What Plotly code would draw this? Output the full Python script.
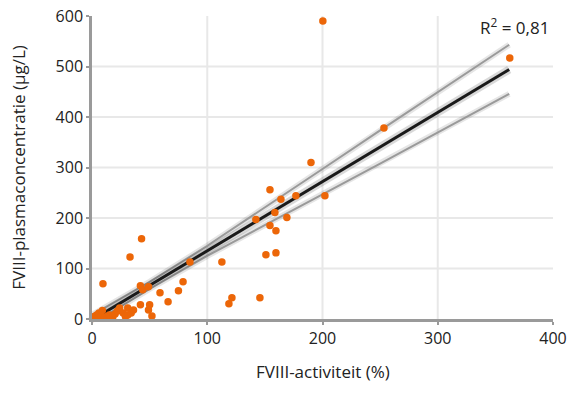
import plotly.graph_objects as go

# Scatter data: FVIII-activiteit (%) vs FVIII-plasmaconcentratie (µg/L)
act = [0.5, 1, 2, 3, 4, 5, 6, 8, 9, 9.5, 11, 13, 15, 18, 20, 22, 24, 27, 29, 31, 31, 34, 36,
       42, 42, 44, 49, 49, 50, 52, 59, 66, 75, 79, 33, 43, 85,
       112.7, 118.8, 121.4, 145.7, 142.2, 154.4, 163.9, 176.9, 202.1, 158.7, 169.1,
       154.4, 159.6, 150.9, 159.6, 190, 253.3, 362.5, 200.3]
conc = [1, 3, 5, 2, 8, 4, 12, 6, 17, 70, 3, 5, 8, 4, 10, 16, 22, 12, 5, 22, 8, 12, 18,
        28, 66, 58, 64, 18, 28, 6, 52, 34, 56, 74, 123, 159, 113,
        113, 30, 42, 42, 197, 256, 237, 244, 244, 211, 201,
        185, 175, 127, 131, 310, 378, 517, 590]

# Regression line and confidence band
fit_x = [0, 50, 100, 150, 200, 250, 300, 362]
fit_y = [-2, 66.5, 135, 203.5, 272, 340.5, 409, 494]
ci_upper = [8, 73.5, 145, 220.5, 297, 373.5, 449, 543]
ci_lower = [-10, 59.5, 125, 186.5, 247, 307.5, 369, 446]

x_ticks = [0, 100, 200, 300, 400]
y_ticks = [0, 100, 200, 300, 400, 500, 600]
x_grid = [100, 200, 300]
y_grid = [100, 200, 300, 400, 500]

ORANGE = "#ec6608"
fig = go.Figure()

for ys in (ci_upper, ci_lower):
    fig.add_trace(go.Scatter(x=fit_x, y=ys, mode="lines",
                             line=dict(color="rgba(0,0,0,0.10)", width=6), hoverinfo="skip"))
    fig.add_trace(go.Scatter(x=fit_x, y=ys, mode="lines",
                             line=dict(color="#9a9a9a", width=2), hoverinfo="skip"))
fig.add_trace(go.Scatter(x=fit_x, y=fit_y, mode="lines",
                         line=dict(color="rgba(0,0,0,0.15)", width=8), hoverinfo="skip"))
fig.add_trace(go.Scatter(x=fit_x, y=fit_y, mode="lines",
                         line=dict(color="#1a1a1a", width=3), hoverinfo="skip"))

fig.add_trace(go.Scatter(x=act, y=conc, mode="markers", cliponaxis=False,
                         marker=dict(color=ORANGE, size=7.5, line=dict(width=0))))

shapes = []
for gx in x_grid:
    shapes.append(dict(type="line", xref="x", yref="paper", x0=gx, x1=gx, y0=0, y1=1,
                       line=dict(color="#e8e8e8", width=2), layer="below"))
for gy in y_grid:
    shapes.append(dict(type="line", xref="paper", yref="y", x0=0, x1=1, y0=gy, y1=gy,
                       line=dict(color="#e8e8e8", width=2), layer="below"))

FONT = "'Open Sans', 'Noto Sans', sans-serif"
fig.update_layout(
    width=567, height=394,
    margin=dict(l=92, r=14, t=16, b=75),
    paper_bgcolor="white", plot_bgcolor="white",
    showlegend=False,
    shapes=shapes,
    font=dict(family=FONT, size=16, color="#222"),
    xaxis=dict(range=[0, 400], tickvals=x_ticks, showgrid=False, zeroline=False,
               automargin=False,
               showline=True, linecolor="#9a9a9a", linewidth=2.5,
               ticks="outside", ticklen=3, tickcolor="#9a9a9a", tickwidth=2,
               tickfont=dict(size=16, color="#222")),
    yaxis=dict(range=[0, 600], tickvals=y_ticks, showgrid=False, zeroline=False,
               automargin=False,
               showline=True, linecolor="#9a9a9a", linewidth=2.5,
               ticks="outside", ticklen=3, tickcolor="#9a9a9a", tickwidth=2,
               tickfont=dict(size=16, color="#222")),
    annotations=[
        dict(text="FVIII-activiteit (%)", xref="paper", yref="paper", x=0.5, y=-0.172,
             showarrow=False, xanchor="center", yanchor="middle",
             font=dict(size=17, color="#222")),
        dict(text="FVIII-plasmaconcentratie (µg/L)", xref="paper", yref="paper",
             x=-0.16, y=0.5, textangle=-90, showarrow=False,
             xanchor="center", yanchor="middle", font=dict(size=17, color="#222")),
        dict(text="R<sup>2</sup> = 0,81", xref="paper", yref="paper", x=0.995, y=0.965,
             showarrow=False, xanchor="right", yanchor="middle",
             font=dict(size=17, color="#222")),
    ],
)

fig.write_html("out.html", config={"displayModeBar": False},
               post_script="document.body.style.margin='0';document.body.style.overflow='hidden';")
